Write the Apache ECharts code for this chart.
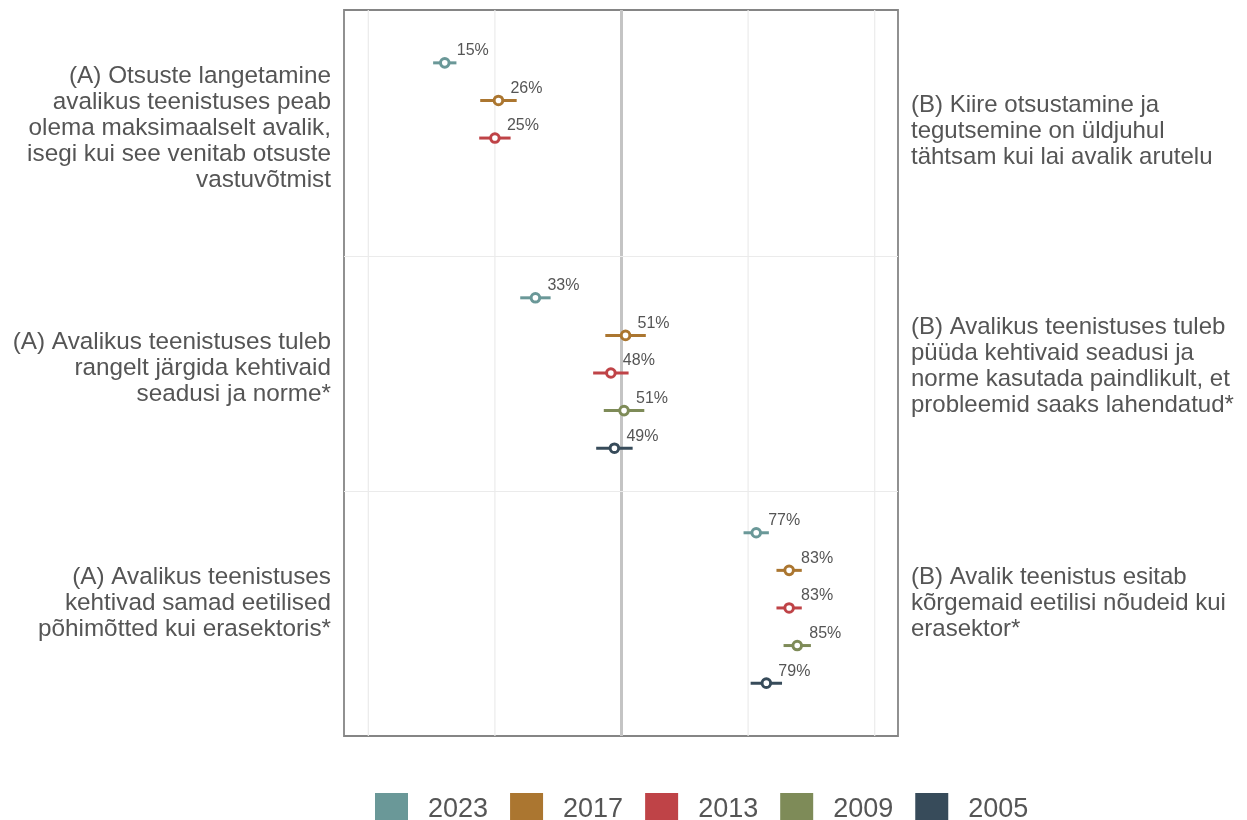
<!DOCTYPE html>
<html><head><meta charset="utf-8">
<script src="https://cdn.jsdelivr.net/npm/echarts@6/dist/echarts.min.js"></script>
<style>html,body{margin:0;padding:0;background:#fff}#c{width:1247px;height:820px}</style>
</head><body><div id="c"></div>
<script>
// ---- data ----
const leftLabels = [
  "(A) Otsuste langetamine\navalikus teenistuses peab\nolema maksimaalselt avalik,\nisegi kui see venitab otsuste\nvastuvõtmist",
  "(A) Avalikus teenistuses tuleb\nrangelt järgida kehtivaid\nseadusi ja norme*",
  "(A) Avalikus teenistuses\nkehtivad samad eetilised\npõhimõtted kui erasektoris*"
];
const rightLabels = [
  "(B) Kiire otsustamine ja\ntegutsemine on üldjuhul\ntähtsam kui lai avalik arutelu",
  "(B) Avalikus teenistuses tuleb\npüüda kehtivaid seadusi ja\nnorme kasutada paindlikult, et\nprobleemid saaks lahendatud*",
  "(B) Avalik teenistus esitab\nkõrgemaid eetilisi nõudeid kui\nerasektor*"
];
const years = ['2023', '2017', '2013', '2009', '2005'];
const values2023 = [15.1, 33.0, 76.6];
const values2017 = [25.7, 50.8, 83.1];
const values2013 = [25.0, 47.9, 83.1];
const values2009 = [null, 50.5, 84.7];
const values2005 = [null, 48.6, 78.6];
const errors2023 = [2.3, 3.0, 2.5];
const errors2017 = [3.6, 4.0, 2.5];
const errors2013 = [3.1, 3.5, 2.5];
const errors2009 = [null, 4.0, 2.7];
const errors2005 = [null, 3.6, 3.1];
const gridTicks = [0, 25, 50, 75, 100];
const separators = [1.5, 2.5];

// ---- styling / layout ----
const colors = ['#6a9898', '#ab7630', '#bf4347', '#7e8b58', '#374b5a'];
const valuesByYear = [values2023, values2017, values2013, values2009, values2005];
const errorsByYear = [errors2023, errors2017, errors2013, errors2009, errors2005];
const dodge = [-0.32, -0.16, 0, 0.16, 0.32];
const xMin = -4.8, xMax = 104.6;
const yMin = 0.455, yMax = 3.545;
const gridTop = 10, gridBottom = 84;
const unitPx = (820 - gridTop - gridBottom) / (yMax - yMin);
const leftNudgePx = [-10, -5, -5];
const rightNudgePx = [-7, -7, -5];
const FONT = 'Liberation Sans';
const textColor = '#555555';

function dataSeries(i) {
  const data = [];
  valuesByYear[i].forEach((v, k) => {
    if (v != null) data.push([v, k + 1 + dodge[i], errorsByYear[i][k]]);
  });
  return {
    type: 'custom', name: years[i], z: 3,
    itemStyle: { color: colors[i] },
    encode: { x: 0, y: 1 },
    data,
    renderItem(params, api) {
      const v = api.value(0), y = api.value(1), e = api.value(2);
      const p = api.coord([v, y]), a = api.coord([v - e, y]), b = api.coord([v + e, y]);
      return { type: 'group', children: [
        { type: 'line', shape: { x1: a[0], y1: a[1], x2: b[0], y2: b[1] }, style: { stroke: colors[i], lineWidth: 3 } },
        { type: 'circle', shape: { cx: p[0], cy: p[1], r: 4.3 }, style: { fill: '#fff', stroke: colors[i], lineWidth: 3 } },
        { type: 'text', x: p[0] + 12, y: p[1] - 12, style: { text: Math.round(v) + '%', fill: '#555555', fontSize: 16, fontFamily: FONT, verticalAlign: 'middle', align: 'left' } }
      ]};
    }
  };
}

const gridSeries = {
  type: 'custom', name: 'grid', z: 1, silent: true,
  encode: { x: 0, y: 1 },
  data: gridTicks.map(t => [t, 2]),
  renderItem(params, api) {
    const x = api.value(0);
    const a = api.coord([x, yMin]), b = api.coord([x, yMax]);
    const center = x === 50;
    return { type: 'line', shape: { x1: a[0], y1: a[1], x2: b[0], y2: b[1] },
      style: { stroke: center ? '#c4c4c4' : '#ebebeb', lineWidth: center ? 3 : 1.2 } };
  }
};
const sepSeries = {
  type: 'custom', name: 'sep', z: 1, silent: true,
  encode: { x: 0, y: 1 },
  data: separators.map(s => [50, s]),
  renderItem(params, api) {
    const y = api.value(1);
    const a = api.coord([xMin, y]), b = api.coord([xMax, y]);
    return { type: 'line', shape: { x1: a[0], y1: a[1] + 1, x2: b[0], y2: b[1] + 1 },
      style: { stroke: '#ebebeb', lineWidth: 1.2 } };
  }
};

const chart = echarts.init(document.getElementById('c'), null, { renderer: 'canvas' });
chart.setOption({
  animation: false,
  backgroundColor: '#fff',
  grid: { left: 344, right: 349, top: gridTop, bottom: gridBottom, show: true, borderColor: '#858585', borderWidth: 1.8, outerBoundsMode: 'none' },
  xAxis: { type: 'value', min: xMin, max: xMax, show: false },
  yAxis: [
    { type: 'value', min: yMin, max: yMax, inverse: true, position: 'left',
      axisLine: { show: false }, axisTick: { show: false }, splitLine: { show: false },
      axisLabel: { customValues: leftLabels.map((_, k) => k + 1 + leftNudgePx[k] / unitPx),
        formatter: v => leftLabels[Math.round(v) - 1] || '',
        fontSize: 24.3, lineHeight: 26, color: textColor, fontFamily: FONT, margin: 13, align: 'right' } },
    { type: 'value', min: yMin, max: yMax, inverse: true, position: 'right',
      axisLine: { show: false }, axisTick: { show: false }, splitLine: { show: false },
      axisLabel: { customValues: rightLabels.map((_, k) => k + 1 + rightNudgePx[k] / unitPx),
        formatter: v => rightLabels[Math.round(v) - 1] || '',
        fontSize: 24, lineHeight: 26, color: textColor, fontFamily: FONT, margin: 13, align: 'left' } }
  ],
  legend: {
    data: years, left: 370, top: 788, icon: 'rect', itemWidth: 33, itemHeight: 33, itemGap: 22,
    textStyle: { fontSize: 27, color: textColor, fontFamily: FONT, padding: [0, 0, 0, 15] }
  },
  series: [gridSeries, sepSeries].concat(years.map((_, i) => dataSeries(i)))
});
</script>
</body></html>
